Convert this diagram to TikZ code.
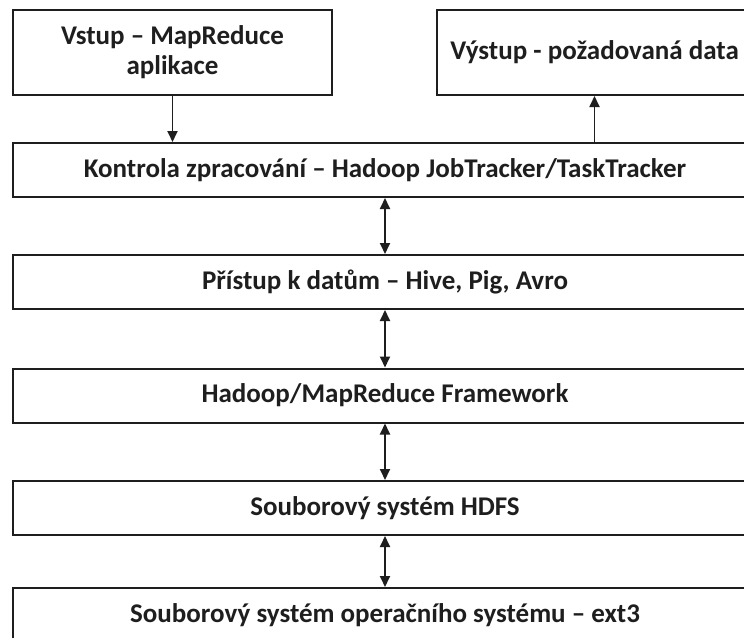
\documentclass[tikz,border=0pt]{standalone}
\usepackage{fontspec}
\setmainfont{Carlito}
\usetikzlibrary{arrows.meta}
\definecolor{ink}{HTML}{1E1E1E}
\begin{document}
\begin{tikzpicture}[x=1pt,y=-1pt,
  box/.style={draw=ink, line width=2pt, fill=white, inner sep=0pt, align=center,
    text=ink, font=\fontsize{27}{30}\selectfont\bfseries},
  conn/.style={draw=ink, line width=1.8pt, -{Triangle[width=10pt,length=11pt]}},
  dconn/.style={draw=ink, line width=1.8pt, {Triangle[width=10pt,length=11pt]}-{Triangle[width=10pt,length=11pt]}}]
\path[use as bounding box, clip] (0,0) rectangle (744,637);
\fill[white] (0,0) rectangle (744,637);
\node[box, minimum width=319pt, minimum height=85pt] (in) at (172.5,52.5) {Vstup – MapReduce\\aplikace};
\node[box, minimum width=315pt, minimum height=85pt] (out) at (594.5,52.5) {Výstup - požadovaná data};
\node[box, minimum width=744pt, minimum height=54pt] (l1) at (385,170) {Kontrola zpracování – Hadoop JobTracker/TaskTracker};
\node[box, minimum width=744pt, minimum height=54pt] (l2) at (385,282) {Přístup k datům – Hive, Pig, Avro};
\node[box, minimum width=744pt, minimum height=54pt] (l3) at (385,395.5) {Hadoop/MapReduce Framework};
\node[box, minimum width=744pt, minimum height=54pt] (l4) at (385,508) {Souborový systém HDFS};
\node[box, minimum width=744pt, minimum height=54pt] (l5) at (385,615) {Souborový systém operačního systému – ext3};
\draw[conn] (in.south) -- (in.south |- l1.north);
\draw[conn] (l1.north -| out.south) -- (out.south);
\draw[dconn] (l1.south) -- (l2.north);
\draw[dconn] (l2.south) -- (l3.north);
\draw[dconn] (l3.south) -- (l4.north);
\draw[dconn] (l4.south) -- (l5.north);
\end{tikzpicture}
\end{document}
